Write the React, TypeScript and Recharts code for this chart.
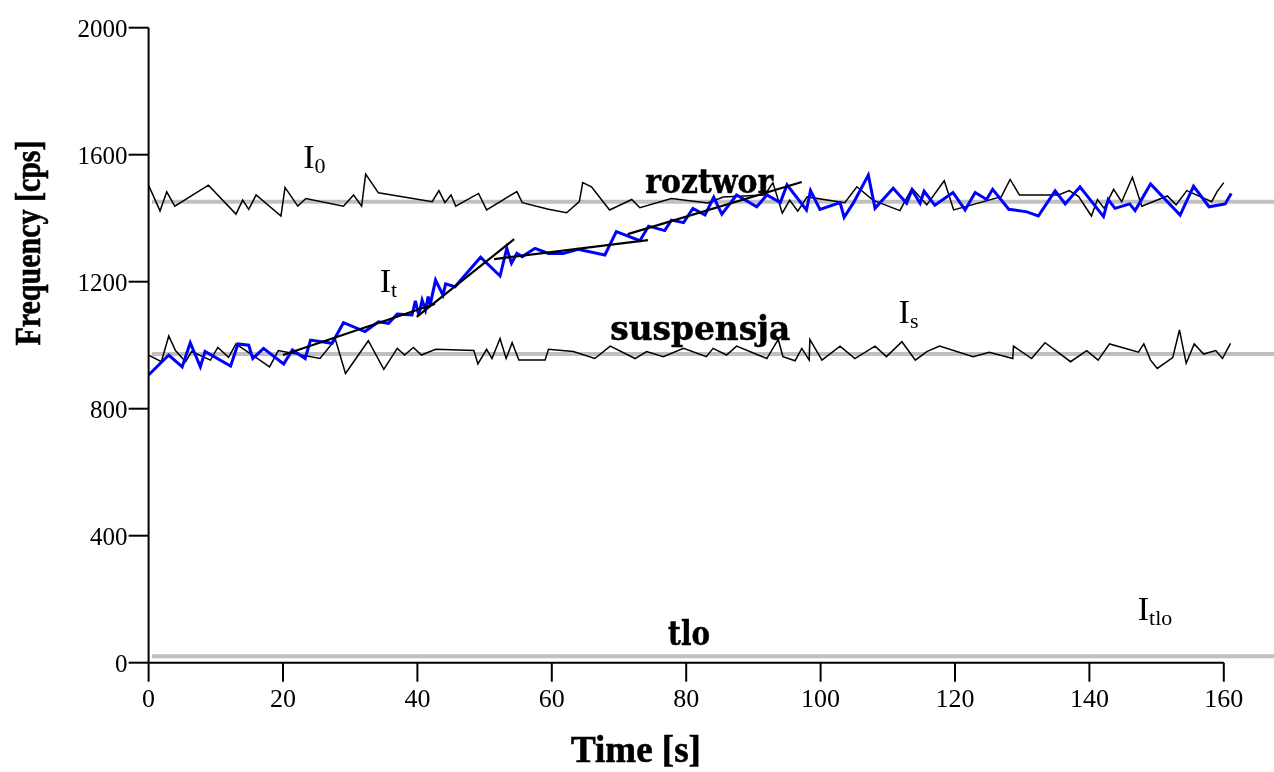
import { LineChart, Line, XAxis, YAxis, ReferenceLine, ReferenceDot } from "recharts";

const i0Time = [0, 1.7, 2.7, 3.9, 8.9, 13.0, 14.0, 14.9, 16.0, 19.7, 20.3, 22.2, 23.4, 29.0, 30.5, 31.7, 32.3, 34.2, 42.2, 43.2, 44.1, 45.0, 45.7, 49.1, 50.3, 54.8, 55.6, 59.5, 62.2, 64.1, 64.6, 65.9, 68.6, 71.9, 73.1, 77.8, 83.2, 85.5, 91.7, 92.9, 94.3, 95.4, 96.6, 98.0, 103.6, 105.4, 107.8, 111.8, 113.6, 115.8, 118.4, 119.8, 126.9, 128.2, 129.6, 135.4, 137.0, 138.4, 140.3, 141.2, 142.2, 143.6, 144.8, 146.4, 147.8, 151.6, 152.9, 154.5, 158.2, 159.0, 160.0];
const i0Freq = [1504, 1423, 1483, 1438, 1504, 1413, 1457, 1428, 1473, 1407, 1497, 1438, 1462, 1438, 1473, 1438, 1539, 1480, 1452, 1487, 1449, 1473, 1438, 1478, 1426, 1484, 1449, 1428, 1417, 1452, 1512, 1499, 1426, 1459, 1433, 1462, 1448, 1467, 1473, 1512, 1416, 1457, 1422, 1467, 1449, 1499, 1457, 1424, 1494, 1442, 1518, 1426, 1468, 1522, 1473, 1473, 1487, 1468, 1407, 1459, 1431, 1491, 1452, 1529, 1438, 1470, 1442, 1487, 1452, 1484, 1512];

const itTime = [0, 3.0, 5.0, 6.2, 7.7, 8.4, 12.2, 13.3, 14.9, 15.5, 17.1, 20.1, 21.4, 23.3, 24.1, 27.3, 29.0, 32.2, 34.2, 35.7, 37.0, 39.2, 39.7, 40.2, 40.7, 41.2, 41.6, 41.9, 42.7, 43.8, 44.2, 45.6, 49.4, 52.3, 53.3, 54.0, 54.8, 55.6, 57.5, 59.5, 61.7, 63.9, 67.9, 69.6, 73.1, 74.4, 76.8, 77.8, 79.6, 81.0, 82.8, 84.1, 85.3, 87.5, 90.5, 92.0, 94.0, 95.0, 97.9, 98.5, 99.9, 102.9, 103.5, 104.9, 107.1, 108.1, 110.8, 112.8, 113.6, 114.8, 115.4, 117.0, 119.7, 121.5, 123.0, 124.7, 125.6, 128.0, 130.7, 132.4, 134.9, 136.4, 138.6, 142.1, 142.8, 143.8, 146.0, 146.8, 149.1, 153.5, 155.5, 157.8, 160.2, 161.1];
const itFreq = [906, 969, 932, 1008, 932, 980, 934, 1004, 1000, 958, 990, 941, 985, 958, 1016, 1006, 1071, 1043, 1074, 1069, 1098, 1095, 1140, 1095, 1142, 1111, 1153, 1127, 1205, 1158, 1193, 1184, 1277, 1218, 1305, 1258, 1289, 1279, 1305, 1289, 1289, 1302, 1284, 1358, 1329, 1375, 1361, 1394, 1386, 1431, 1410, 1466, 1413, 1473, 1436, 1473, 1449, 1505, 1426, 1487, 1428, 1449, 1403, 1449, 1536, 1431, 1494, 1447, 1489, 1447, 1485, 1441, 1481, 1426, 1481, 1459, 1491, 1428, 1420, 1407, 1486, 1445, 1499, 1405, 1459, 1431, 1445, 1424, 1508, 1410, 1501, 1436, 1445, 1478];

const isTime = [0, 1.9, 3.0, 4.0, 5.5, 6.4, 9.2, 10.3, 11.9, 13.0, 18.0, 19.3, 25.5, 27.8, 29.3, 32.7, 35.0, 37.0, 38.1, 39.4, 40.6, 42.7, 48.4, 49.0, 50.3, 51.1, 52.3, 53.2, 54.1, 55.1, 59.0, 59.5, 63.2, 66.4, 68.7, 72.4, 74.1, 76.6, 79.6, 83.0, 84.0, 86.0, 87.5, 92.0, 93.7, 94.4, 96.2, 97.2, 98.3, 98.4, 100.2, 102.9, 105.1, 108.1, 109.8, 112.1, 114.1, 115.8, 117.7, 122.7, 125.1, 128.6, 128.7, 131.4, 133.4, 137.2, 139.6, 141.3, 143.0, 147.3, 148.1, 149.1, 150.1, 152.4, 153.4, 154.4, 155.6, 157.0, 158.8, 159.8, 161.0];
const isFreq = [969, 948, 1029, 983, 948, 980, 953, 993, 962, 1004, 932, 983, 958, 1018, 911, 1014, 924, 990, 969, 993, 969, 987, 983, 941, 987, 958, 1021, 958, 1008, 953, 953, 987, 980, 958, 997, 958, 980, 964, 990, 964, 990, 969, 997, 958, 1018, 964, 951, 990, 953, 1018, 953, 997, 958, 997, 964, 1011, 953, 980, 997, 964, 978, 958, 997, 958, 1008, 948, 983, 953, 1004, 978, 1004, 953, 927, 961, 1048, 943, 1004, 972, 983, 958, 1006];

// linear fits drawn over I_t (start and end of each)
const fitTime = [[20.0, 42.6], [39.9, 54.4], [51.4, 74.3], [71.3, 97.2]];
const fitFreq = [[969, 1130], [1089, 1334], [1271, 1331], [1350, 1514]];

// mean levels: I0, Is, Itlo
const levelNames = ["I0", "Is", "Itlo"];
const levelFreq = [1452, 972, 20];
const levelStart = 0.5;

const xTicks = [0, 20, 40, 60, 80, 100, 120, 140, 160];
const yTicks = [0, 400, 800, 1200, 1600, 2000];
const X_MAX = 167.47;

const zip = (t: number[], f: number[]) => t.map((x, i) => ({ t: x, f: f[i] }));

const symbols = [
  { main: "I", sub: "0", t: 23.0, f: 1558 },
  { main: "I", sub: "t", t: 34.4, f: 1166 },
  { main: "I", sub: "s", t: 111.6, f: 1071 },
  { main: "I", sub: "tlo", t: 147.2, f: 134 },
];
const words = [
  { text: "roztwor", t: 73.9, f: 1479, len: 128 },
  { text: "suspensja", t: 68.7, f: 1016, len: 180 },
  { text: "tlo", t: 77.3, f: 56, len: 42 },
];

const serif = "'Liberation Serif', 'Times New Roman', serif";
const boldSerif = "'DejaVu Serif', serif";

export default function App() {
  return (
    <div style={{ position: "fixed", left: 0, top: 0 }}>
      <LineChart width={1274} height={772} margin={{ top: 27.7, right: 0, bottom: 49.3, left: 68.6 }}>
        <XAxis
          type="number"
          dataKey="t"
          domain={[0, X_MAX]}
          ticks={xTicks}
          allowDataOverflow
          axisLine={false}
          tickSize={19}
          tickMargin={7}
          tickLine={{ stroke: "#000", strokeWidth: 2 }}
          tick={{ fill: "#000", fontSize: 26, fontFamily: serif }}
          height={60}
          label={{
            content: () => (
              <text x={636} y={762} textAnchor="middle" fontFamily={serif} fontWeight="bold" fontSize={37} fill="#000" stroke="#000" strokeWidth={0.6}>
                Time [s]
              </text>
            ),
          }}
        />
        <YAxis
          type="number"
          dataKey="f"
          domain={[0, 2000]}
          ticks={yTicks}
          width={80}
          tickSize={20}
          tickMargin={1}
          axisLine={{ stroke: "#000", strokeWidth: 2 }}
          tickLine={{ stroke: "#000", strokeWidth: 2 }}
          tick={{ fill: "#000", fontSize: 25, fontFamily: serif }}
          label={{
            content: () => (
              <text
                x={40}
                y={243}
                transform="rotate(-90, 40, 243)"
                textAnchor="middle"
                fontFamily={serif}
                fontWeight="bold"
                fontSize={35}
                textLength={205}
                lengthAdjust="spacingAndGlyphs"
                fill="#000"
                stroke="#000"
                strokeWidth={0.6}
              >
                Frequency [cps]
              </text>
            ),
          }}
        />

        {levelFreq.map((f, i) => (
          <Line
            key={levelNames[i]}
            data={zip([levelStart, X_MAX], [f, f])}
            dataKey="f"
            stroke="#c0c0c0"
            strokeWidth={4}
            dot={false}
            isAnimationActive={false}
          />
        ))}

        <ReferenceLine segment={[{ x: 0, y: 0 }, { x: 160, y: 0 }]} stroke="#000" strokeWidth={2} />

        <Line data={zip(i0Time, i0Freq)} dataKey="f" stroke="#000" strokeWidth={1.5} dot={false} isAnimationActive={false} />
        <Line data={zip(isTime, isFreq)} dataKey="f" stroke="#000" strokeWidth={1.5} dot={false} isAnimationActive={false} />
        <Line data={zip(itTime, itFreq)} dataKey="f" stroke="#0000ff" strokeWidth={3} dot={false} isAnimationActive={false} />
        {fitTime.map((t, i) => (
          <Line key={"fit" + i} data={zip(t, fitFreq[i])} dataKey="f" stroke="#000" strokeWidth={2.2} dot={false} isAnimationActive={false} />
        ))}

        {symbols.map((s) => (
          <ReferenceDot
            key={s.sub}
            x={s.t}
            y={s.f}
            r={0}
            ifOverflow="visible"
            shape={(p: any) => (
              <text x={p.cx} y={p.cy} fontFamily={serif} fontSize={34} fill="#000">
                {s.main}
                <tspan fontSize={22} dy={5}>{s.sub}</tspan>
              </text>
            )}
          />
        ))}
        {words.map((w) => (
          <ReferenceDot
            key={w.text}
            x={w.t}
            y={w.f}
            r={0}
            ifOverflow="visible"
            shape={(p: any) => (
              <text
                x={p.cx}
                y={p.cy}
                fontFamily={boldSerif}
                fontWeight="bold"
                fontSize={33}
                textLength={w.len}
                lengthAdjust="spacingAndGlyphs"
                fill="#000"
                stroke="#000"
                strokeWidth={0.5}
              >
                {w.text}
              </text>
            )}
          />
        ))}
      </LineChart>
    </div>
  );
}
